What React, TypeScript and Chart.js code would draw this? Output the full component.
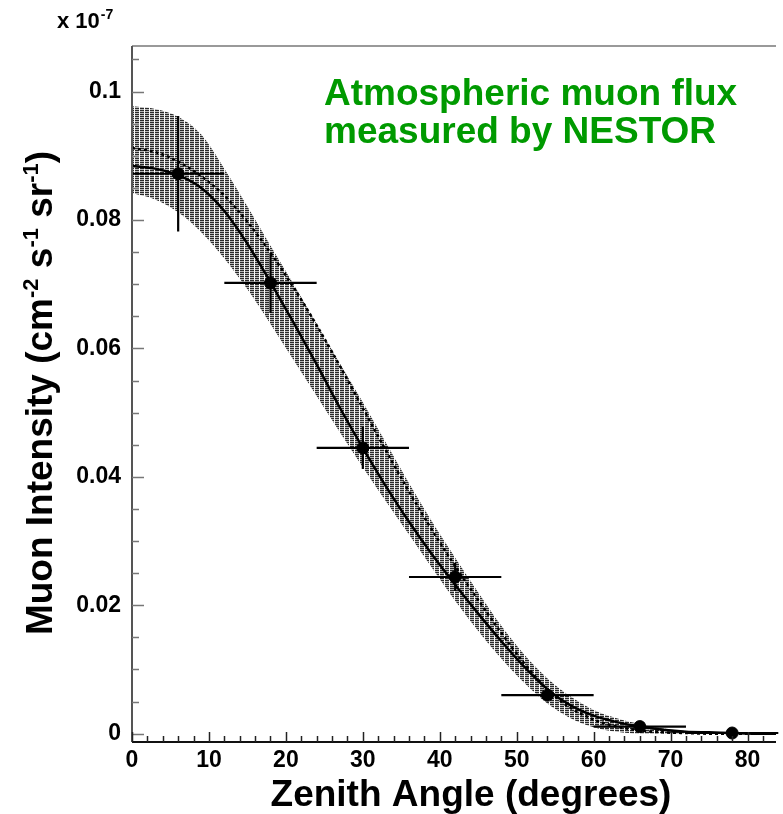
import React, { useEffect, useRef } from 'react';
import { Chart, registerables } from 'chart.js';

Chart.register(...registerables);

// ---------- data ----------
const curveAngles = [0, 3, 6, 9, 12, 15, 18, 21, 24, 27, 30, 33, 36, 39, 42, 45, 48, 51, 54, 57, 60, 63, 66, 69, 72, 75, 78, 81, 84];
const fitFlux = [0.0884, 0.0880, 0.0870, 0.0850, 0.0814, 0.0763, 0.0703, 0.0640, 0.0575, 0.0508, 0.0445, 0.0385, 0.0330, 0.0279, 0.0232, 0.0187, 0.0144, 0.0104, 0.0069, 0.0044, 0.0028, 0.0018, 0.0011, 0.0006, 0.0003, 0.0002, 0.0001, 0.0000, 0.0000];
const altFlux = [0.0912, 0.0906, 0.0891, 0.0868, 0.0838, 0.0797, 0.0749, 0.0695, 0.0636, 0.0573, 0.0507, 0.0441, 0.0377, 0.0317, 0.0261, 0.0208, 0.0157, 0.0109, 0.0069, 0.0040, 0.0022, 0.0011, 0.0005, 0.0002, 0.0001, 0.0000, 0.0000, 0.0000, 0.0000];
const bandUpper = [0.0977, 0.0973, 0.0961, 0.0933, 0.0880, 0.0821, 0.0760, 0.0700, 0.0638, 0.0577, 0.0516, 0.0453, 0.0390, 0.0330, 0.0274, 0.0220, 0.0168, 0.0123, 0.0086, 0.0058, 0.0037, 0.0024, 0.0015, 0.0008, 0.0004, 0.0002, 0.0001, 0.0000, 0.0000];
const bandLower = [0.0842, 0.0832, 0.0812, 0.0781, 0.0740, 0.0692, 0.0638, 0.0582, 0.0526, 0.0470, 0.0415, 0.0362, 0.0310, 0.0258, 0.0207, 0.0160, 0.0117, 0.0079, 0.0047, 0.0024, 0.0010, 0.0003, 0.0000, 0.0000, 0.0000, 0.0000, 0.0000, 0.0000, 0.0000];

const pointAngles = [6, 18, 30, 42, 54, 66, 78];
const pointFlux = [0.0872, 0.0702, 0.0445, 0.0244, 0.0060, 0.0011, 0.0001];
const fluxErr = [0.0090, 0.0047, 0.0033, 0.0022, 0.0008, 0.0003, 0.0001];
const binLow = [0, 12, 24, 36, 48, 60, 72];
const binHigh = [12, 24, 36, 48, 60, 72, 84];

const xTickValues = [0, 10, 20, 30, 40, 50, 60, 70, 80];
const yTickValues = [0, 0.02, 0.04, 0.06, 0.08, 0.1];

const X_MIN = 0;
const X_MAX = 83.7;
const Y_MIN = -0.0013;
const Y_MAX = 0.1071;
const X_MINOR = 2;
const Y_MINOR = 0.005;

const FONT = '"Liberation Sans", Arial, Helvetica, sans-serif';
const GREEN = '#009a00';

function makeHatch(): CanvasPattern | string {
  const c = document.createElement('canvas');
  c.width = 5;
  c.height = 2;
  const g = c.getContext('2d');
  if (!g) return '#888';
  g.fillStyle = '#ffffff';
  g.fillRect(0, 0, 5, 2);
  g.fillStyle = '#2a2a2a';
  g.fillRect(0, 0, 4, 1);
  g.fillStyle = '#b8b8b8';
  g.fillRect(0, 1, 4, 1);
  return g.createPattern(c, 'repeat') || '#888';
}

const decorPlugin = {
  id: 'decor',
  beforeDraw(chart: any) {
    const ctx = chart.ctx;
    ctx.save();
    ctx.fillStyle = '#ffffff';
    ctx.fillRect(0, 0, chart.width, chart.height);
    ctx.restore();
  },
  afterDatasetsDraw(chart: any) {
    const ctx = chart.ctx;
    const xs = chart.scales.x;
    const ys = chart.scales.y;
    ctx.save();
    ctx.strokeStyle = '#000';
    ctx.lineWidth = 2.2;
    for (let i = 0; i < pointAngles.length; i++) {
      const py = ys.getPixelForValue(pointFlux[i]);
      const px = xs.getPixelForValue(pointAngles[i]);
      ctx.beginPath();
      ctx.moveTo(xs.getPixelForValue(binLow[i]), py);
      ctx.lineTo(Math.min(xs.getPixelForValue(binHigh[i]), chart.width), py);
      ctx.moveTo(px, ys.getPixelForValue(pointFlux[i] + fluxErr[i]));
      ctx.lineTo(px, ys.getPixelForValue(pointFlux[i] - fluxErr[i]));
      ctx.stroke();
    }
    ctx.restore();
  },
  afterDraw(chart: any) {
    const ctx = chart.ctx;
    const xs = chart.scales.x;
    const ys = chart.scales.y;
    const area = chart.chartArea;
    ctx.save();

    // frame
    ctx.lineWidth = 1.5;
    ctx.strokeStyle = '#777';
    ctx.beginPath();
    ctx.moveTo(area.left, area.top);
    ctx.lineTo(area.right, area.top);
    ctx.stroke();
    ctx.lineWidth = 2;
    ctx.strokeStyle = '#555';
    ctx.beginPath();
    ctx.moveTo(area.left, area.top);
    ctx.lineTo(area.left, area.bottom);
    ctx.stroke();
    ctx.strokeStyle = '#111';
    ctx.beginPath();
    ctx.moveTo(area.left, area.bottom);
    ctx.lineTo(area.right, area.bottom);
    ctx.stroke();

    // y ticks (inward)
    ctx.lineWidth = 1.5;
    ctx.strokeStyle = '#777';
    for (let k = 0; k * Y_MINOR <= Y_MAX; k++) {
      const v = k * Y_MINOR;
      const major = k % 4 === 0;
      const p = Math.round(ys.getPixelForValue(v)) + 0.5;
      ctx.beginPath();
      ctx.moveTo(area.left, p);
      ctx.lineTo(area.left + (major ? 12 : 7), p);
      ctx.stroke();
    }
    // x ticks (inward)
    ctx.strokeStyle = '#222';
    for (let k = 0; k * X_MINOR <= X_MAX; k++) {
      const v = k * X_MINOR;
      const major = k % 5 === 0;
      const p = Math.round(xs.getPixelForValue(v)) + 0.5;
      ctx.beginPath();
      ctx.moveTo(p, area.bottom);
      ctx.lineTo(p, area.bottom - (major ? 10 : 6));
      ctx.stroke();
    }

    // x 10^-7
    ctx.fillStyle = '#000';
    ctx.textBaseline = 'alphabetic';
    ctx.textAlign = 'left';
    ctx.font = `bold 22px ${FONT}`;
    ctx.fillText('x 10', 57, 28);
    const w10 = ctx.measureText('x 10').width;
    ctx.font = `bold 14px ${FONT}`;
    ctx.fillText('-7', 57 + w10 + 1, 19);

    // x axis title
    ctx.font = `bold 37px ${FONT}`;
    ctx.textAlign = 'center';
    ctx.fillText('Zenith Angle (degrees)', 471, 806);

    // y axis title with superscripts
    const segs: [string, boolean][] = [
      ['Muon Intensity (cm', false],
      ['-2', true],
      [' s', false],
      ['-1', true],
      [' sr', false],
      ['-1', true],
      [')', false],
    ];
    const mainFont = `bold 37px ${FONT}`;
    const supFont = `bold 22px ${FONT}`;
    ctx.textAlign = 'left';
    let total = 0;
    const widths = segs.map(([t, sup]) => {
      ctx.font = sup ? supFont : mainFont;
      const w = ctx.measureText(t).width;
      total += w;
      return w;
    });
    ctx.translate(52, 393);
    ctx.rotate(-Math.PI / 2);
    let cx = -total / 2;
    segs.forEach(([t, sup], i) => {
      ctx.font = sup ? supFont : mainFont;
      ctx.fillText(t, cx, sup ? -14 : 0);
      cx += widths[i];
    });
    ctx.setTransform(1, 0, 0, 1, 0, 0);

    // annotation
    ctx.fillStyle = GREEN;
    ctx.font = `bold 37px ${FONT}`;
    ctx.textAlign = 'left';
    ctx.fillText('Atmospheric muon flux', 324, 105);
    ctx.fillText('measured by NESTOR', 324, 143);

    ctx.restore();
  },
};

export default function App() {
  const canvasRef = useRef<HTMLCanvasElement | null>(null);

  useEffect(() => {
    const canvas = canvasRef.current;
    if (!canvas) return;
    const hatch = makeHatch();
    const toXY = (ys: number[]) => curveAngles.map((a, i) => ({ x: a, y: ys[i] }));

    const chart = new Chart(canvas, {
      type: 'line',
      data: {
        datasets: [
          {
            type: 'scatter',
            label: 'NESTOR data',
            data: pointAngles.map((a, i) => ({ x: a, y: pointFlux[i] })),
            backgroundColor: '#000',
            borderColor: '#000',
            pointRadius: 6,
            pointHoverRadius: 6,
            order: 0,
          } as any,
          {
            label: 'Fit',
            data: toXY(fitFlux),
            borderColor: '#000',
            borderWidth: 2.5,
            pointRadius: 0,
            fill: false,
            cubicInterpolationMode: 'monotone',
            order: 1,
          },
          {
            label: 'Prediction',
            data: toXY(altFlux),
            borderColor: '#000',
            borderWidth: 2.5,
            borderDash: [3, 3],
            pointRadius: 0,
            fill: false,
            cubicInterpolationMode: 'monotone',
            order: 2,
          },
          {
            label: 'Band upper',
            data: toXY(bandUpper),
            borderWidth: 0,
            borderColor: 'rgba(0,0,0,0)',
            backgroundColor: hatch as any,
            pointRadius: 0,
            fill: '+1',
            cubicInterpolationMode: 'monotone',
            order: 3,
          },
          {
            label: 'Band lower',
            data: toXY(bandLower),
            borderWidth: 0,
            borderColor: 'rgba(0,0,0,0)',
            pointRadius: 0,
            fill: false,
            cubicInterpolationMode: 'monotone',
            order: 4,
          },
        ],
      },
      options: {
        responsive: false,
        animation: false,
        events: [],
        layout: { padding: { top: 46, left: 0, right: 0, bottom: 0 } },
        plugins: {
          legend: { display: false },
          tooltip: { enabled: false },
          title: { display: false },
        },
        scales: {
          x: {
            type: 'linear',
            min: X_MIN,
            max: X_MAX,
            grid: { display: false, drawTicks: false },
            border: { display: false },
            afterBuildTicks: (axis: any) => {
              axis.ticks = xTickValues.map((v) => ({ value: v }));
            },
            afterFit: (scale: any) => {
              scale.height = 72;
            },
            ticks: {
              color: '#000',
              padding: 5,
              maxRotation: 0,
              autoSkip: false,
              font: { family: FONT, weight: 'bold', size: 23 },
              callback: (v: any) => String(v),
            },
          },
          y: {
            type: 'linear',
            min: Y_MIN,
            max: Y_MAX,
            grid: { display: false, drawTicks: false },
            border: { display: false },
            afterBuildTicks: (axis: any) => {
              axis.ticks = yTickValues.map((v) => ({ value: v }));
            },
            afterFit: (scale: any) => {
              scale.width = 132;
            },
            ticks: {
              color: '#000',
              padding: 11,
              autoSkip: false,
              font: { family: FONT, weight: 'bold', size: 23 },
              callback: (v: any) => String(Number(Number(v).toFixed(3))),
            },
          },
        },
      } as any,
      plugins: [decorPlugin],
    });

    return () => {
      chart.destroy();
    };
  }, []);

  return (
    <div style={{ position: 'absolute', left: 0, top: 0, width: 783, height: 814, background: '#fff', overflow: 'hidden' }}>
      <canvas ref={canvasRef} width={783} height={814} style={{ width: 783, height: 814, display: 'block' }} />
    </div>
  );
}
